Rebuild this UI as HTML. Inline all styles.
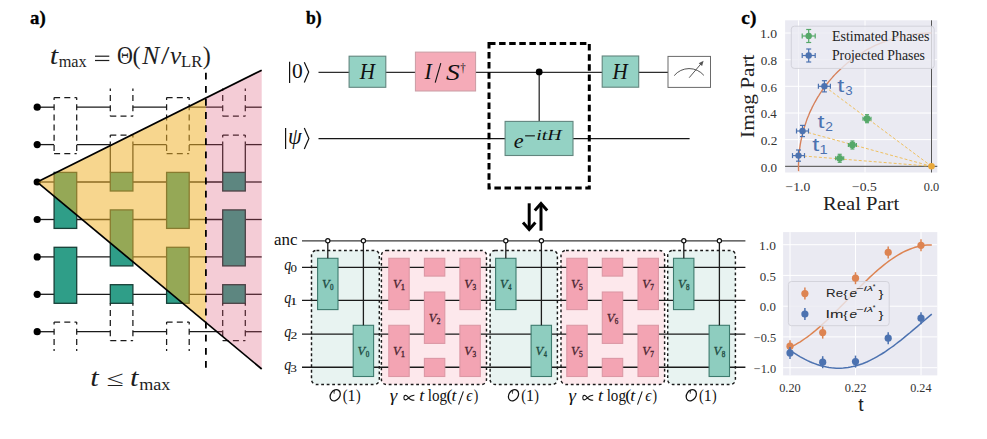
<!DOCTYPE html>
<html><head><meta charset="utf-8"><style>
html,body{margin:0;padding:0;background:#fff;width:987px;height:439px;overflow:hidden}
svg{display:block}
</style></head><body>
<svg width="987" height="439" viewBox="0 0 987 439">
<rect width="987" height="439" fill="#fff"/>
<line x1="37.2" y1="107.2" x2="54.1" y2="107.2" stroke="#1a1a1a" stroke-width="1.3"/>
<line x1="76.7" y1="107.2" x2="110.3" y2="107.2" stroke="#1a1a1a" stroke-width="1.3"/>
<line x1="132.9" y1="107.2" x2="166.6" y2="107.2" stroke="#1a1a1a" stroke-width="1.3"/>
<line x1="189.2" y1="107.2" x2="222.7" y2="107.2" stroke="#1a1a1a" stroke-width="1.3"/>
<line x1="245.3" y1="107.2" x2="261.7" y2="107.2" stroke="#1a1a1a" stroke-width="1.3"/>
<line x1="37.2" y1="144.6" x2="54.1" y2="144.6" stroke="#1a1a1a" stroke-width="1.3"/>
<line x1="76.7" y1="144.6" x2="110.3" y2="144.6" stroke="#1a1a1a" stroke-width="1.3"/>
<line x1="132.9" y1="144.6" x2="166.6" y2="144.6" stroke="#1a1a1a" stroke-width="1.3"/>
<line x1="189.2" y1="144.6" x2="222.7" y2="144.6" stroke="#1a1a1a" stroke-width="1.3"/>
<line x1="245.3" y1="144.6" x2="261.7" y2="144.6" stroke="#1a1a1a" stroke-width="1.3"/>
<line x1="37.2" y1="182.0" x2="54.1" y2="182.0" stroke="#1a1a1a" stroke-width="1.3"/>
<line x1="76.7" y1="182.0" x2="110.3" y2="182.0" stroke="#1a1a1a" stroke-width="1.3"/>
<line x1="132.9" y1="182.0" x2="166.6" y2="182.0" stroke="#1a1a1a" stroke-width="1.3"/>
<line x1="189.2" y1="182.0" x2="222.7" y2="182.0" stroke="#1a1a1a" stroke-width="1.3"/>
<line x1="245.3" y1="182.0" x2="261.7" y2="182.0" stroke="#1a1a1a" stroke-width="1.3"/>
<line x1="37.2" y1="219.5" x2="54.1" y2="219.5" stroke="#1a1a1a" stroke-width="1.3"/>
<line x1="76.7" y1="219.5" x2="110.3" y2="219.5" stroke="#1a1a1a" stroke-width="1.3"/>
<line x1="132.9" y1="219.5" x2="166.6" y2="219.5" stroke="#1a1a1a" stroke-width="1.3"/>
<line x1="189.2" y1="219.5" x2="222.7" y2="219.5" stroke="#1a1a1a" stroke-width="1.3"/>
<line x1="245.3" y1="219.5" x2="261.7" y2="219.5" stroke="#1a1a1a" stroke-width="1.3"/>
<line x1="37.2" y1="256.9" x2="54.1" y2="256.9" stroke="#1a1a1a" stroke-width="1.3"/>
<line x1="76.7" y1="256.9" x2="110.3" y2="256.9" stroke="#1a1a1a" stroke-width="1.3"/>
<line x1="132.9" y1="256.9" x2="166.6" y2="256.9" stroke="#1a1a1a" stroke-width="1.3"/>
<line x1="189.2" y1="256.9" x2="222.7" y2="256.9" stroke="#1a1a1a" stroke-width="1.3"/>
<line x1="245.3" y1="256.9" x2="261.7" y2="256.9" stroke="#1a1a1a" stroke-width="1.3"/>
<line x1="37.2" y1="294.3" x2="54.1" y2="294.3" stroke="#1a1a1a" stroke-width="1.3"/>
<line x1="76.7" y1="294.3" x2="110.3" y2="294.3" stroke="#1a1a1a" stroke-width="1.3"/>
<line x1="132.9" y1="294.3" x2="166.6" y2="294.3" stroke="#1a1a1a" stroke-width="1.3"/>
<line x1="189.2" y1="294.3" x2="222.7" y2="294.3" stroke="#1a1a1a" stroke-width="1.3"/>
<line x1="245.3" y1="294.3" x2="261.7" y2="294.3" stroke="#1a1a1a" stroke-width="1.3"/>
<line x1="37.2" y1="331.7" x2="54.1" y2="331.7" stroke="#1a1a1a" stroke-width="1.3"/>
<line x1="76.7" y1="331.7" x2="110.3" y2="331.7" stroke="#1a1a1a" stroke-width="1.3"/>
<line x1="132.9" y1="331.7" x2="166.6" y2="331.7" stroke="#1a1a1a" stroke-width="1.3"/>
<line x1="189.2" y1="331.7" x2="222.7" y2="331.7" stroke="#1a1a1a" stroke-width="1.3"/>
<line x1="245.3" y1="331.7" x2="261.7" y2="331.7" stroke="#1a1a1a" stroke-width="1.3"/>
<line x1="54.1" y1="97.6" x2="76.7" y2="97.6" stroke="#1a1a1a" stroke-width="1.25" stroke-dasharray="6 4.2" stroke-dashoffset="0"/>
<line x1="54.1" y1="153.6" x2="76.7" y2="153.6" stroke="#1a1a1a" stroke-width="1.25" stroke-dasharray="6 4.2" stroke-dashoffset="0"/>
<line x1="54.1" y1="97.6" x2="54.1" y2="153.6" stroke="#1a1a1a" stroke-width="1.25" stroke-dasharray="6 4.2" stroke-dashoffset="3.6"/>
<line x1="76.7" y1="97.6" x2="76.7" y2="153.6" stroke="#1a1a1a" stroke-width="1.25" stroke-dasharray="6 4.2" stroke-dashoffset="3.6"/>
<rect x="54.1" y="172.4" width="22.6" height="56.0" fill="#2f9e88" stroke="#173f37" stroke-width="1.3"/>
<rect x="54.1" y="247.3" width="22.6" height="56.0" fill="#2f9e88" stroke="#173f37" stroke-width="1.3"/>
<line x1="54.1" y1="322.1" x2="76.7" y2="322.1" stroke="#1a1a1a" stroke-width="1.25" stroke-dasharray="6 4.2" stroke-dashoffset="0"/>
<line x1="54.1" y1="322.1" x2="54.1" y2="351.0" stroke="#1a1a1a" stroke-width="1.25" stroke-dasharray="6 4.2" stroke-dashoffset="3.6"/>
<line x1="76.7" y1="322.1" x2="76.7" y2="351.0" stroke="#1a1a1a" stroke-width="1.25" stroke-dasharray="6 4.2" stroke-dashoffset="3.6"/>
<line x1="110.3" y1="116.2" x2="132.9" y2="116.2" stroke="#1a1a1a" stroke-width="1.25" stroke-dasharray="6 4.2" stroke-dashoffset="0"/>
<line x1="110.3" y1="88.5" x2="110.3" y2="116.2" stroke="#1a1a1a" stroke-width="1.25" stroke-dasharray="6 4.2" stroke-dashoffset="3.6"/>
<line x1="132.9" y1="88.5" x2="132.9" y2="116.2" stroke="#1a1a1a" stroke-width="1.25" stroke-dasharray="6 4.2" stroke-dashoffset="3.6"/>
<line x1="110.3" y1="135.0" x2="132.9" y2="135.0" stroke="#1a1a1a" stroke-width="1.25" stroke-dasharray="6 4.2" stroke-dashoffset="0"/>
<line x1="110.3" y1="135.0" x2="110.3" y2="144.6" stroke="#1a1a1a" stroke-width="1.25" stroke-dasharray="6 4.2" stroke-dashoffset="3.6"/>
<line x1="132.9" y1="135.0" x2="132.9" y2="144.6" stroke="#1a1a1a" stroke-width="1.25" stroke-dasharray="6 4.2" stroke-dashoffset="3.6"/>
<line x1="110.3" y1="144.6" x2="110.3" y2="172.4" stroke="#1a1a1a" stroke-width="1.25"/>
<line x1="132.9" y1="144.6" x2="132.9" y2="172.4" stroke="#1a1a1a" stroke-width="1.25"/>
<rect x="110.3" y="172.4" width="22.6" height="18.6" fill="#2f9e88" stroke="#173f37" stroke-width="1.3"/>
<rect x="110.3" y="209.9" width="22.6" height="56.0" fill="#2f9e88" stroke="#173f37" stroke-width="1.3"/>
<rect x="110.3" y="284.7" width="22.6" height="18.6" fill="#2f9e88" stroke="#173f37" stroke-width="1.3"/>
<line x1="110.3" y1="340.7" x2="132.9" y2="340.7" stroke="#1a1a1a" stroke-width="1.25" stroke-dasharray="6 4.2" stroke-dashoffset="0"/>
<line x1="110.3" y1="303.3" x2="110.3" y2="340.7" stroke="#1a1a1a" stroke-width="1.25" stroke-dasharray="6 4.2" stroke-dashoffset="3.6"/>
<line x1="132.9" y1="303.3" x2="132.9" y2="340.7" stroke="#1a1a1a" stroke-width="1.25" stroke-dasharray="6 4.2" stroke-dashoffset="3.6"/>
<line x1="166.6" y1="97.6" x2="189.2" y2="97.6" stroke="#1a1a1a" stroke-width="1.25" stroke-dasharray="6 4.2" stroke-dashoffset="0"/>
<line x1="166.6" y1="153.6" x2="189.2" y2="153.6" stroke="#1a1a1a" stroke-width="1.25" stroke-dasharray="6 4.2" stroke-dashoffset="0"/>
<line x1="166.6" y1="97.6" x2="166.6" y2="153.6" stroke="#1a1a1a" stroke-width="1.25" stroke-dasharray="6 4.2" stroke-dashoffset="3.6"/>
<line x1="189.2" y1="97.6" x2="189.2" y2="153.6" stroke="#1a1a1a" stroke-width="1.25" stroke-dasharray="6 4.2" stroke-dashoffset="3.6"/>
<rect x="166.6" y="172.4" width="22.6" height="56.0" fill="#2f9e88" stroke="#173f37" stroke-width="1.3"/>
<rect x="166.6" y="247.3" width="22.6" height="56.0" fill="#2f9e88" stroke="#173f37" stroke-width="1.3"/>
<line x1="166.6" y1="322.1" x2="189.2" y2="322.1" stroke="#1a1a1a" stroke-width="1.25" stroke-dasharray="6 4.2" stroke-dashoffset="0"/>
<line x1="166.6" y1="322.1" x2="166.6" y2="351.0" stroke="#1a1a1a" stroke-width="1.25" stroke-dasharray="6 4.2" stroke-dashoffset="3.6"/>
<line x1="189.2" y1="322.1" x2="189.2" y2="351.0" stroke="#1a1a1a" stroke-width="1.25" stroke-dasharray="6 4.2" stroke-dashoffset="3.6"/>
<line x1="222.7" y1="116.2" x2="245.3" y2="116.2" stroke="#1a1a1a" stroke-width="1.25" stroke-dasharray="6 4.2" stroke-dashoffset="0"/>
<line x1="222.7" y1="88.5" x2="222.7" y2="116.2" stroke="#1a1a1a" stroke-width="1.25" stroke-dasharray="6 4.2" stroke-dashoffset="3.6"/>
<line x1="245.3" y1="88.5" x2="245.3" y2="116.2" stroke="#1a1a1a" stroke-width="1.25" stroke-dasharray="6 4.2" stroke-dashoffset="3.6"/>
<line x1="222.7" y1="135.0" x2="245.3" y2="135.0" stroke="#1a1a1a" stroke-width="1.25" stroke-dasharray="6 4.2" stroke-dashoffset="0"/>
<line x1="222.7" y1="135.0" x2="222.7" y2="144.6" stroke="#1a1a1a" stroke-width="1.25" stroke-dasharray="6 4.2" stroke-dashoffset="3.6"/>
<line x1="245.3" y1="135.0" x2="245.3" y2="144.6" stroke="#1a1a1a" stroke-width="1.25" stroke-dasharray="6 4.2" stroke-dashoffset="3.6"/>
<line x1="222.7" y1="144.6" x2="222.7" y2="172.4" stroke="#1a1a1a" stroke-width="1.25"/>
<line x1="245.3" y1="144.6" x2="245.3" y2="172.4" stroke="#1a1a1a" stroke-width="1.25"/>
<rect x="222.7" y="172.4" width="22.6" height="18.6" fill="#2f9e88" stroke="#173f37" stroke-width="1.3"/>
<rect x="222.7" y="209.9" width="22.6" height="56.0" fill="#2f9e88" stroke="#173f37" stroke-width="1.3"/>
<rect x="222.7" y="284.7" width="22.6" height="18.6" fill="#2f9e88" stroke="#173f37" stroke-width="1.3"/>
<line x1="222.7" y1="340.7" x2="245.3" y2="340.7" stroke="#1a1a1a" stroke-width="1.25" stroke-dasharray="6 4.2" stroke-dashoffset="0"/>
<line x1="222.7" y1="303.3" x2="222.7" y2="340.7" stroke="#1a1a1a" stroke-width="1.25" stroke-dasharray="6 4.2" stroke-dashoffset="3.6"/>
<line x1="245.3" y1="303.3" x2="245.3" y2="340.7" stroke="#1a1a1a" stroke-width="1.25" stroke-dasharray="6 4.2" stroke-dashoffset="3.6"/>
<circle cx="37.2" cy="107.2" r="3.6" fill="#000"/>
<circle cx="37.2" cy="144.6" r="3.6" fill="#000"/>
<circle cx="37.2" cy="182.0" r="3.6" fill="#000"/>
<circle cx="37.2" cy="219.5" r="3.6" fill="#000"/>
<circle cx="37.2" cy="256.9" r="3.6" fill="#000"/>
<circle cx="37.2" cy="294.3" r="3.6" fill="#000"/>
<circle cx="37.2" cy="331.7" r="3.6" fill="#000"/>
<polygon points="37.2,182.1 205.9,98.0 205.9,322.5" fill="rgb(240,177,42)" fill-opacity="0.53"/>
<polygon points="205.9,98.0 261.7,70.2 261.7,369.0 205.9,322.5" fill="rgb(216,73,108)" fill-opacity="0.28"/>
<line x1="37.2" y1="182.1" x2="261.7" y2="70.2" stroke="#000" stroke-width="1.7"/>
<line x1="37.2" y1="182.1" x2="261.7" y2="369.0" stroke="#000" stroke-width="1.7"/>
<line x1="205.9" y1="72.8" x2="205.9" y2="369.6" stroke="#000" stroke-width="1.8" stroke-dasharray="6.8 6.3"/>
<text transform="translate(30.00,24.20) scale(0.962,1)" font-family='"Liberation Serif", serif' font-size="19.50" font-weight="bold" fill="#000" stroke="#000" stroke-width="0.35">a)</text>
<text transform="translate(49.87,64.30) scale(1.243,1)" font-family='"Liberation Serif", serif' font-size="24.40" font-style="italic" fill="#1e1e1e">t</text>
<text transform="translate(58.66,67.20) scale(0.931,1)" font-family='"Liberation Serif", serif' font-size="17.50" fill="#1e1e1e">max</text>
<rect x="95" y="55.6" width="14.3" height="1.2" fill="#1e1e1e"/><rect x="95" y="59.9" width="14.3" height="1.2" fill="#1e1e1e"/>
<text transform="translate(117.10,64.40) scale(0.910,1)" font-family='"Liberation Serif", serif' font-size="24.20" fill="#1e1e1e">Θ</text>
<text transform="translate(132.44,64.40)" font-family='"Liberation Serif", serif' font-size="24.20" fill="#1e1e1e">(</text>
<text transform="translate(142.19,64.40) scale(1.055,1)" font-family='"Liberation Serif", serif' font-size="24.20" font-style="italic" fill="#1e1e1e">N</text>
<text transform="translate(161.00,64.40) scale(1.264,1)" font-family='"Liberation Serif", serif' font-size="24.20" fill="#1e1e1e">/</text>
<text transform="translate(170.05,64.40) scale(1.047,1)" font-family='"Liberation Serif", serif' font-size="24.20" font-style="italic" fill="#1e1e1e">v</text>
<text transform="translate(181.02,67.20) scale(0.953,1)" font-family='"Liberation Serif", serif' font-size="17.50" fill="#1e1e1e">LR</text>
<text transform="translate(202.72,64.40)" font-family='"Liberation Serif", serif' font-size="24.20" fill="#1e1e1e">)</text>
<text transform="translate(90.27,386.30) scale(1.243,1)" font-family='"Liberation Serif", serif' font-size="24.40" font-style="italic" fill="#1e1e1e">t</text>
<text transform="translate(106.50,386.00) scale(1.426,1)" font-family='"Liberation Serif", serif' font-size="22.00" fill="#1e1e1e">≤</text>
<text transform="translate(129.97,386.30) scale(1.243,1)" font-family='"Liberation Serif", serif' font-size="24.40" font-style="italic" fill="#1e1e1e">t</text>
<text transform="translate(139.22,389.70) scale(1.036,1)" font-family='"Liberation Serif", serif' font-size="17.50" fill="#1e1e1e">max</text>
<text transform="translate(305.98,24.20) scale(0.905,1)" font-family='"Liberation Serif", serif' font-size="19.50" font-weight="bold" fill="#000" stroke="#000" stroke-width="0.35">b)</text>
<line x1="318.5" y1="72.35" x2="668" y2="72.35" stroke="#2e2e2e" stroke-width="1.3"/>
<line x1="318.5" y1="138.6" x2="689.6" y2="138.6" stroke="#161616" stroke-width="1.4"/>
<line x1="289.6" y1="61.8" x2="289.6" y2="82.9" stroke="#111" stroke-width="1.2"/>
<text transform="translate(291.98,77.70) scale(0.994,1)" font-family='"Liberation Serif", serif' font-size="21.60" fill="#111">0</text>
<path d="M304.3,62.2 L308.7,72.1 L304.3,82.5" fill="none" stroke="#111" stroke-width="1.2"/>
<line x1="285.6" y1="128" x2="285.6" y2="149.1" stroke="#111" stroke-width="1.2"/>
<text transform="translate(287.89,143.50) scale(0.980,1)" font-family='"Liberation Serif", serif' font-size="22.50" font-style="italic" fill="#111">ψ</text>
<path d="M304.3,128 L308.9,138.5 L304.3,149.1" fill="none" stroke="#111" stroke-width="1.2"/>
<rect x="349.1" y="56.2" width="36.7" height="31.1" fill="#94d2c4" stroke="#62857e" stroke-width="1.1"/>
<text transform="translate(359.63,79.40) scale(0.945,1)" font-family='"Liberation Serif", serif' font-size="22.30" font-style="italic" fill="#111">H</text>
<rect x="415.4" y="52.1" width="60.2" height="38.9" fill="#f5abb8" stroke="#c99ca4" stroke-width="1"/>
<text transform="translate(424.39,79.40) scale(0.978,1)" font-family='"Liberation Serif", serif' font-size="22.30" font-style="italic" fill="#111">I</text>
<line x1="435.2" y1="82.6" x2="440.8" y2="63.2" stroke="#111" stroke-width="1.1"/>
<text transform="translate(445.88,79.60) scale(1.235,1)" font-family='"Liberation Serif", serif' font-size="22.30" font-style="italic" fill="#111">S</text>
<text transform="translate(460.26,71.90) scale(0.842,1)" font-family='"Liberation Serif", serif' font-size="13.00" fill="#111">†</text>
<rect x="489" y="43.4" width="100.3" height="144.6" fill="none" stroke="#000" stroke-width="3" stroke-dasharray="6.5 3.6"/>
<line x1="539.2" y1="72" x2="539.2" y2="121.4" stroke="#2e2e2e" stroke-width="1.3"/>
<circle cx="539.2" cy="71.9" r="3.4" fill="#000"/>
<rect x="505.1" y="121.4" width="67.9" height="34.1" fill="#94d2c4" stroke="#62857e" stroke-width="1.1"/>
<text transform="translate(513.71,147.80) scale(1.012,1)" font-family='"Liberation Serif", serif' font-size="22.00" font-style="italic" fill="#111">e</text>
<rect x="525.1" y="135.3" width="9.8" height="1.1" fill="#111"/>
<text transform="translate(536.29,139.60) scale(1.372,1)" font-family='"Liberation Serif", serif' font-size="14.50" font-style="italic" fill="#111">itH</text>
<rect x="602.2" y="56" width="36.5" height="31.2" fill="#94d2c4" stroke="#62857e" stroke-width="1.1"/>
<text transform="translate(612.43,79.40) scale(0.945,1)" font-family='"Liberation Serif", serif' font-size="22.30" font-style="italic" fill="#111">H</text>
<rect x="668" y="56.4" width="42.5" height="31" fill="#fff" stroke="#6a6a6a" stroke-width="1"/>
<path d="M674.2,75.6 A19.4,19.4 0 0 1 703.9,75.4" fill="none" stroke="#555" stroke-width="1"/>
<line x1="689.2" y1="77.7" x2="701.2" y2="63.6" stroke="#555" stroke-width="1"/>
<path d="M703.6,60.8 L702.1,66.0 L698.7,63.2 Z" fill="#555"/>
<line x1="529.2" y1="203.3" x2="529.2" y2="229" stroke="#000" stroke-width="3"/>
<path d="M523,222.5 L529.2,229.5 L535.4,222.5" fill="none" stroke="#000" stroke-width="3"/>
<line x1="541" y1="204" x2="541" y2="230.7" stroke="#000" stroke-width="3"/>
<path d="M534.8,210.5 L541,203.5 L547.2,210.5" fill="none" stroke="#000" stroke-width="3"/>
<rect x="311.5" y="250.4" width="67.8" height="134.1" rx="5" fill="#e8f3f1"/>
<rect x="381.4" y="250.4" width="105.1" height="134.1" rx="5" fill="#fde8ec"/>
<rect x="490.1" y="250.4" width="67.3" height="134.1" rx="5" fill="#e8f3f1"/>
<rect x="561.0" y="250.4" width="103.6" height="134.1" rx="5" fill="#fde8ec"/>
<rect x="667.7" y="250.4" width="67.7" height="134.1" rx="5" fill="#e8f3f1"/>
<line x1="302" y1="240.8" x2="745.4" y2="240.8" stroke="#3a3a3a" stroke-width="1.35"/>
<line x1="302" y1="267.3" x2="745.4" y2="267.3" stroke="#1a1a1a" stroke-width="1.35"/>
<line x1="302" y1="300.3" x2="745.4" y2="300.3" stroke="#1a1a1a" stroke-width="1.35"/>
<line x1="302" y1="334.1" x2="745.4" y2="334.1" stroke="#1a1a1a" stroke-width="1.35"/>
<line x1="302" y1="367.2" x2="745.4" y2="367.2" stroke="#1a1a1a" stroke-width="1.35"/>
<rect x="311.5" y="250.4" width="67.8" height="134.1" rx="5" fill="none" stroke="#1a1a1a" stroke-width="1.45" stroke-dasharray="2.8 2.7"/>
<rect x="381.4" y="250.4" width="105.1" height="134.1" rx="5" fill="none" stroke="#1a1a1a" stroke-width="1.45" stroke-dasharray="2.8 2.7"/>
<rect x="490.1" y="250.4" width="67.3" height="134.1" rx="5" fill="none" stroke="#1a1a1a" stroke-width="1.45" stroke-dasharray="2.8 2.7"/>
<rect x="561.0" y="250.4" width="103.6" height="134.1" rx="5" fill="none" stroke="#1a1a1a" stroke-width="1.45" stroke-dasharray="2.8 2.7"/>
<rect x="667.7" y="250.4" width="67.7" height="134.1" rx="5" fill="none" stroke="#1a1a1a" stroke-width="1.45" stroke-dasharray="2.8 2.7"/>
<rect x="317.6" y="258.3" width="20.4" height="51.3" fill="#8ecdbf" stroke="#3d7a6e" stroke-width="1.1"/>
<text transform="translate(321.90,288.45) scale(0.963,1)" font-family='"Liberation Serif", serif' font-size="13.00" font-style="italic" fill="#1d4a42" stroke="#1d4a42" stroke-width="0.3">V</text>
<text transform="translate(330.08,290.25) scale(0.885,1)" font-family='"Liberation Serif", serif' font-size="8.00" fill="#1d4a42" stroke="#1d4a42" stroke-width="0.35">0</text>
<line x1="327.8" y1="240.8" x2="327.8" y2="258.3" stroke="#1e1e1e" stroke-width="1.3"/>
<circle cx="327.8" cy="240.8" r="2.1" fill="#fff" stroke="#111" stroke-width="1.2"/>
<rect x="353.2" y="325.3" width="20.4" height="51.2" fill="#8ecdbf" stroke="#3d7a6e" stroke-width="1.1"/>
<text transform="translate(357.50,355.40) scale(0.963,1)" font-family='"Liberation Serif", serif' font-size="13.00" font-style="italic" fill="#1d4a42" stroke="#1d4a42" stroke-width="0.3">V</text>
<text transform="translate(365.68,357.20) scale(0.885,1)" font-family='"Liberation Serif", serif' font-size="8.00" fill="#1d4a42" stroke="#1d4a42" stroke-width="0.35">0</text>
<line x1="363.4" y1="240.8" x2="363.4" y2="325.3" stroke="#1e1e1e" stroke-width="1.3"/>
<circle cx="363.4" cy="240.8" r="2.1" fill="#fff" stroke="#111" stroke-width="1.2"/>
<rect x="495.6" y="258.3" width="20.4" height="51.3" fill="#8ecdbf" stroke="#3d7a6e" stroke-width="1.1"/>
<text transform="translate(499.90,288.45) scale(0.963,1)" font-family='"Liberation Serif", serif' font-size="13.00" font-style="italic" fill="#1d4a42" stroke="#1d4a42" stroke-width="0.3">V</text>
<text transform="translate(508.22,290.25) scale(0.807,1)" font-family='"Liberation Serif", serif' font-size="8.00" fill="#1d4a42" stroke="#1d4a42" stroke-width="0.35">4</text>
<line x1="505.8" y1="240.8" x2="505.8" y2="258.3" stroke="#1e1e1e" stroke-width="1.3"/>
<circle cx="505.8" cy="240.8" r="2.1" fill="#fff" stroke="#111" stroke-width="1.2"/>
<rect x="531.1" y="325.3" width="20.4" height="51.2" fill="#8ecdbf" stroke="#3d7a6e" stroke-width="1.1"/>
<text transform="translate(535.50,355.40) scale(0.963,1)" font-family='"Liberation Serif", serif' font-size="13.00" font-style="italic" fill="#1d4a42" stroke="#1d4a42" stroke-width="0.3">V</text>
<text transform="translate(543.82,357.20) scale(0.807,1)" font-family='"Liberation Serif", serif' font-size="8.00" fill="#1d4a42" stroke="#1d4a42" stroke-width="0.35">4</text>
<line x1="541.4" y1="240.8" x2="541.4" y2="325.3" stroke="#1e1e1e" stroke-width="1.3"/>
<circle cx="541.4" cy="240.8" r="2.1" fill="#fff" stroke="#111" stroke-width="1.2"/>
<rect x="673.5" y="258.3" width="20.4" height="51.3" fill="#8ecdbf" stroke="#3d7a6e" stroke-width="1.1"/>
<text transform="translate(677.90,288.45) scale(0.963,1)" font-family='"Liberation Serif", serif' font-size="13.00" font-style="italic" fill="#1d4a42" stroke="#1d4a42" stroke-width="0.3">V</text>
<text transform="translate(686.08,290.25) scale(0.885,1)" font-family='"Liberation Serif", serif' font-size="8.00" fill="#1d4a42" stroke="#1d4a42" stroke-width="0.35">8</text>
<line x1="683.8" y1="240.8" x2="683.8" y2="258.3" stroke="#1e1e1e" stroke-width="1.3"/>
<circle cx="683.8" cy="240.8" r="2.1" fill="#fff" stroke="#111" stroke-width="1.2"/>
<rect x="709.1" y="325.3" width="20.4" height="51.2" fill="#8ecdbf" stroke="#3d7a6e" stroke-width="1.1"/>
<text transform="translate(713.50,355.40) scale(0.963,1)" font-family='"Liberation Serif", serif' font-size="13.00" font-style="italic" fill="#1d4a42" stroke="#1d4a42" stroke-width="0.3">V</text>
<text transform="translate(721.68,357.20) scale(0.885,1)" font-family='"Liberation Serif", serif' font-size="8.00" fill="#1d4a42" stroke="#1d4a42" stroke-width="0.35">8</text>
<line x1="719.4" y1="240.8" x2="719.4" y2="325.3" stroke="#1e1e1e" stroke-width="1.3"/>
<circle cx="719.4" cy="240.8" r="2.1" fill="#fff" stroke="#111" stroke-width="1.2"/>
<rect x="388.8" y="258.3" width="20.4" height="51.3" fill="#f3a4b3" stroke="#dc98a5" stroke-width="1.1"/>
<text transform="translate(393.10,288.45) scale(0.963,1)" font-family='"Liberation Serif", serif' font-size="13.00" font-style="italic" fill="#4a2530" stroke="#4a2530" stroke-width="0.3">V</text>
<text transform="translate(400.80,290.25) scale(1.065,1)" font-family='"Liberation Serif", serif' font-size="8.00" fill="#4a2530" stroke="#4a2530" stroke-width="0.35">1</text>
<rect x="388.8" y="325.3" width="20.4" height="51.2" fill="#f3a4b3" stroke="#dc98a5" stroke-width="1.1"/>
<text transform="translate(393.10,355.40) scale(0.963,1)" font-family='"Liberation Serif", serif' font-size="13.00" font-style="italic" fill="#4a2530" stroke="#4a2530" stroke-width="0.3">V</text>
<text transform="translate(400.80,357.20) scale(1.065,1)" font-family='"Liberation Serif", serif' font-size="8.00" fill="#4a2530" stroke="#4a2530" stroke-width="0.35">1</text>
<rect x="424.4" y="258.3" width="20.4" height="17.8" fill="#f3a4b3" stroke="#dc98a5" stroke-width="1.1"/>
<rect x="424.4" y="292.0" width="20.4" height="51.4" fill="#f3a4b3" stroke="#dc98a5" stroke-width="1.1"/>
<text transform="translate(428.70,322.20) scale(0.963,1)" font-family='"Liberation Serif", serif' font-size="13.00" font-style="italic" fill="#4a2530" stroke="#4a2530" stroke-width="0.3">V</text>
<text transform="translate(436.82,324.00) scale(0.935,1)" font-family='"Liberation Serif", serif' font-size="8.00" fill="#4a2530" stroke="#4a2530" stroke-width="0.35">2</text>
<rect x="424.4" y="358.4" width="20.4" height="18.1" fill="#f3a4b3" stroke="#dc98a5" stroke-width="1.1"/>
<rect x="459.9" y="258.3" width="20.4" height="51.3" fill="#f3a4b3" stroke="#dc98a5" stroke-width="1.1"/>
<text transform="translate(464.30,288.45) scale(0.963,1)" font-family='"Liberation Serif", serif' font-size="13.00" font-style="italic" fill="#4a2530" stroke="#4a2530" stroke-width="0.3">V</text>
<text transform="translate(472.40,290.25) scale(0.908,1)" font-family='"Liberation Serif", serif' font-size="8.00" fill="#4a2530" stroke="#4a2530" stroke-width="0.35">3</text>
<rect x="459.9" y="325.3" width="20.4" height="51.2" fill="#f3a4b3" stroke="#dc98a5" stroke-width="1.1"/>
<text transform="translate(464.30,355.40) scale(0.963,1)" font-family='"Liberation Serif", serif' font-size="13.00" font-style="italic" fill="#4a2530" stroke="#4a2530" stroke-width="0.3">V</text>
<text transform="translate(472.40,357.20) scale(0.908,1)" font-family='"Liberation Serif", serif' font-size="8.00" fill="#4a2530" stroke="#4a2530" stroke-width="0.35">3</text>
<rect x="566.8" y="258.3" width="20.4" height="51.3" fill="#f3a4b3" stroke="#dc98a5" stroke-width="1.1"/>
<text transform="translate(571.10,288.45) scale(0.963,1)" font-family='"Liberation Serif", serif' font-size="13.00" font-style="italic" fill="#4a2530" stroke="#4a2530" stroke-width="0.3">V</text>
<text transform="translate(579.12,290.25) scale(0.931,1)" font-family='"Liberation Serif", serif' font-size="8.00" fill="#4a2530" stroke="#4a2530" stroke-width="0.35">5</text>
<rect x="566.8" y="325.3" width="20.4" height="51.2" fill="#f3a4b3" stroke="#dc98a5" stroke-width="1.1"/>
<text transform="translate(571.10,355.40) scale(0.963,1)" font-family='"Liberation Serif", serif' font-size="13.00" font-style="italic" fill="#4a2530" stroke="#4a2530" stroke-width="0.3">V</text>
<text transform="translate(579.12,357.20) scale(0.931,1)" font-family='"Liberation Serif", serif' font-size="8.00" fill="#4a2530" stroke="#4a2530" stroke-width="0.35">5</text>
<rect x="602.3" y="258.3" width="20.4" height="17.8" fill="#f3a4b3" stroke="#dc98a5" stroke-width="1.1"/>
<rect x="602.3" y="292.0" width="20.4" height="51.4" fill="#f3a4b3" stroke="#dc98a5" stroke-width="1.1"/>
<text transform="translate(606.70,322.20) scale(0.963,1)" font-family='"Liberation Serif", serif' font-size="13.00" font-style="italic" fill="#4a2530" stroke="#4a2530" stroke-width="0.3">V</text>
<text transform="translate(614.85,324.00) scale(0.878,1)" font-family='"Liberation Serif", serif' font-size="8.00" fill="#4a2530" stroke="#4a2530" stroke-width="0.35">6</text>
<rect x="602.3" y="358.4" width="20.4" height="18.1" fill="#f3a4b3" stroke="#dc98a5" stroke-width="1.1"/>
<rect x="638.0" y="258.3" width="20.4" height="51.3" fill="#f3a4b3" stroke="#dc98a5" stroke-width="1.1"/>
<text transform="translate(642.30,288.45) scale(0.963,1)" font-family='"Liberation Serif", serif' font-size="13.00" font-style="italic" fill="#4a2530" stroke="#4a2530" stroke-width="0.3">V</text>
<text transform="translate(650.26,290.25) scale(0.925,1)" font-family='"Liberation Serif", serif' font-size="8.00" fill="#4a2530" stroke="#4a2530" stroke-width="0.35">7</text>
<rect x="638.0" y="325.3" width="20.4" height="51.2" fill="#f3a4b3" stroke="#dc98a5" stroke-width="1.1"/>
<text transform="translate(642.30,355.40) scale(0.963,1)" font-family='"Liberation Serif", serif' font-size="13.00" font-style="italic" fill="#4a2530" stroke="#4a2530" stroke-width="0.3">V</text>
<text transform="translate(650.26,357.20) scale(0.925,1)" font-family='"Liberation Serif", serif' font-size="8.00" fill="#4a2530" stroke="#4a2530" stroke-width="0.35">7</text>
<text transform="translate(273.90,244.60) scale(1.046,1)" font-family='"Liberation Serif", serif' font-size="16.20" fill="#111">anc</text>
<text transform="translate(284.34,269.70) scale(0.823,1)" font-family='"Liberation Serif", serif' font-size="17.00" font-style="italic" fill="#111">q</text>
<text transform="translate(290.51,271.90) scale(1.180,1)" font-family='"Liberation Serif", serif' font-size="11.00" fill="#111">0</text>
<text transform="translate(284.34,302.70) scale(0.823,1)" font-family='"Liberation Serif", serif' font-size="17.00" font-style="italic" fill="#111">q</text>
<text transform="translate(289.63,304.90) scale(1.420,1)" font-family='"Liberation Serif", serif' font-size="11.00" fill="#111">1</text>
<text transform="translate(284.34,336.50) scale(0.823,1)" font-family='"Liberation Serif", serif' font-size="17.00" font-style="italic" fill="#111">q</text>
<text transform="translate(290.40,338.70) scale(1.247,1)" font-family='"Liberation Serif", serif' font-size="11.00" fill="#111">2</text>
<text transform="translate(284.34,369.60) scale(0.823,1)" font-family='"Liberation Serif", serif' font-size="17.00" font-style="italic" fill="#111">q</text>
<text transform="translate(290.36,371.80) scale(1.210,1)" font-family='"Liberation Serif", serif' font-size="11.00" fill="#111">3</text>
<ellipse cx="335.2" cy="395.3" rx="4.6" ry="6.0" transform="rotate(35 335.2 395.3)" fill="none" stroke="#111" stroke-width="1.25"/>
<path d="M334.6,390.6 Q333.6,392.2 334.2,393.6" fill="none" stroke="#111" stroke-width="0.9"/>
<text transform="translate(342.87,400.80) scale(0.873,1)" font-family='"Liberation Serif", serif' font-size="16.50" fill="#111">(</text>
<text transform="translate(347.60,400.80) scale(0.964,1)" font-family='"Liberation Serif", serif' font-size="16.50" fill="#111">1</text>
<text transform="translate(355.95,400.80) scale(0.849,1)" font-family='"Liberation Serif", serif' font-size="16.50" fill="#111">)</text>
<text transform="translate(389.75,400.80) scale(1.194,1)" font-family='"Liberation Serif", serif' font-size="16.00" font-style="italic" fill="#111">γ</text>
<path d="M414.4,395.2 C410.5,395 409.0,397.5 407.8,398.6 C406.0,400.4 403.9,400.6 403.9,397.7 C403.9,394.7 406.3,394.9 407.8,396.8 C409.0,398.4 410.8,400.4 414.4,400.3" fill="none" stroke="#111" stroke-width="1.1"/>
<text transform="translate(419.20,400.80) scale(1.098,1)" font-family='"Liberation Serif", serif' font-size="16.50" font-style="italic" fill="#111">t</text>
<text transform="translate(427.80,400.80) scale(0.915,1)" font-family='"Liberation Serif", serif' font-size="16.50" fill="#111">log</text>
<text transform="translate(446.51,400.80) scale(1.085,1)" font-family='"Liberation Serif", serif' font-size="16.50" fill="#111">(</text>
<text transform="translate(451.52,400.80) scale(1.074,1)" font-family='"Liberation Serif", serif' font-size="16.50" font-style="italic" fill="#111">t</text>
<line x1="458.6" y1="404.6" x2="463.4" y2="391.4" stroke="#111" stroke-width="1.05"/>
<text transform="translate(466.34,400.80) scale(0.942,1)" font-family='"Liberation Serif", serif' font-size="16.50" font-style="italic" fill="#111">ϵ</text>
<text transform="translate(473.76,400.80) scale(0.826,1)" font-family='"Liberation Serif", serif' font-size="16.50" fill="#111">)</text>
<ellipse cx="513.5" cy="395.3" rx="4.6" ry="6.0" transform="rotate(35 513.5 395.3)" fill="none" stroke="#111" stroke-width="1.25"/>
<path d="M513.0,390.6 Q512.0,392.2 512.5,393.6" fill="none" stroke="#111" stroke-width="0.9"/>
<text transform="translate(521.22,400.80) scale(0.873,1)" font-family='"Liberation Serif", serif' font-size="16.50" fill="#111">(</text>
<text transform="translate(525.95,400.80) scale(0.964,1)" font-family='"Liberation Serif", serif' font-size="16.50" fill="#111">1</text>
<text transform="translate(534.30,400.80) scale(0.849,1)" font-family='"Liberation Serif", serif' font-size="16.50" fill="#111">)</text>
<text transform="translate(568.60,400.80) scale(1.194,1)" font-family='"Liberation Serif", serif' font-size="16.00" font-style="italic" fill="#111">γ</text>
<path d="M593.2,395.2 C589.3,395 587.8,397.5 586.6,398.6 C584.8,400.4 582.8,400.6 582.8,397.7 C582.8,394.7 585.1,394.9 586.6,396.8 C587.8,398.4 589.6,400.4 593.2,400.3" fill="none" stroke="#111" stroke-width="1.1"/>
<text transform="translate(598.05,400.80) scale(1.098,1)" font-family='"Liberation Serif", serif' font-size="16.50" font-style="italic" fill="#111">t</text>
<text transform="translate(606.65,400.80) scale(0.915,1)" font-family='"Liberation Serif", serif' font-size="16.50" fill="#111">log</text>
<text transform="translate(625.36,400.80) scale(1.085,1)" font-family='"Liberation Serif", serif' font-size="16.50" fill="#111">(</text>
<text transform="translate(630.37,400.80) scale(1.074,1)" font-family='"Liberation Serif", serif' font-size="16.50" font-style="italic" fill="#111">t</text>
<line x1="637.5" y1="404.6" x2="642.2" y2="391.4" stroke="#111" stroke-width="1.05"/>
<text transform="translate(645.19,400.80) scale(0.942,1)" font-family='"Liberation Serif", serif' font-size="16.50" font-style="italic" fill="#111">ϵ</text>
<text transform="translate(652.61,400.80) scale(0.826,1)" font-family='"Liberation Serif", serif' font-size="16.50" fill="#111">)</text>
<ellipse cx="691.3" cy="395.3" rx="4.6" ry="6.0" transform="rotate(35 691.3 395.3)" fill="none" stroke="#111" stroke-width="1.25"/>
<path d="M690.8,390.6 Q689.8,392.2 690.3,393.6" fill="none" stroke="#111" stroke-width="0.9"/>
<text transform="translate(699.02,400.80) scale(0.873,1)" font-family='"Liberation Serif", serif' font-size="16.50" fill="#111">(</text>
<text transform="translate(703.75,400.80) scale(0.964,1)" font-family='"Liberation Serif", serif' font-size="16.50" fill="#111">1</text>
<text transform="translate(712.10,400.80) scale(0.849,1)" font-family='"Liberation Serif", serif' font-size="16.50" fill="#111">)</text>
<text transform="translate(741.34,24.20) scale(0.991,1)" font-family='"Liberation Serif", serif' font-size="19.50" font-weight="bold" fill="#000" stroke="#000" stroke-width="0.35">c)</text>
<rect x="785.1" y="20.3" width="152.2" height="152.2" fill="#eaeaf2"/>
<line x1="798.5" y1="20.3" x2="798.5" y2="172.5" stroke="#fff" stroke-width="1"/>
<line x1="865.0" y1="20.3" x2="865.0" y2="172.5" stroke="#fff" stroke-width="1"/>
<line x1="931.5" y1="20.3" x2="931.5" y2="172.5" stroke="#fff" stroke-width="1"/>
<line x1="785.1" y1="166.3" x2="937.3" y2="166.3" stroke="#fff" stroke-width="1"/>
<line x1="785.1" y1="139.6" x2="937.3" y2="139.6" stroke="#fff" stroke-width="1"/>
<line x1="785.1" y1="113.0" x2="937.3" y2="113.0" stroke="#fff" stroke-width="1"/>
<line x1="785.1" y1="86.3" x2="937.3" y2="86.3" stroke="#fff" stroke-width="1"/>
<line x1="785.1" y1="59.7" x2="937.3" y2="59.7" stroke="#fff" stroke-width="1"/>
<line x1="785.1" y1="33.0" x2="937.3" y2="33.0" stroke="#fff" stroke-width="1"/>
<line x1="785.1" y1="166.3" x2="937.3" y2="166.3" stroke="#666" stroke-width="1.2"/>
<line x1="931.5" y1="20.3" x2="931.5" y2="172.5" stroke="#555" stroke-width="1.0"/>
<polyline points="931.5,33.0 929.3,33.0 927.1,33.1 924.9,33.2 922.7,33.3 920.5,33.5 918.3,33.7 916.1,33.9 913.9,34.2 911.7,34.5 909.5,34.8 907.4,35.2 905.2,35.6 903.1,36.1 900.9,36.6 898.8,37.1 896.6,37.7 894.5,38.3 892.4,38.9 890.3,39.6 888.2,40.3 886.1,41.0 884.1,41.8 882.0,42.6 880.0,43.4 877.9,44.3 875.9,45.2 873.9,46.1 871.9,47.1 870.0,48.1 868.0,49.2 866.1,50.2 864.2,51.3 862.3,52.5 860.4,53.6 858.6,54.8 856.7,56.1 854.9,57.3 853.1,58.6 851.4,59.9 849.6,61.3 847.9,62.6 846.2,64.0 844.5,65.5 842.9,66.9 841.2,68.4 839.6,69.9 838.0,71.5 836.5,73.0 834.9,74.6 833.4,76.2 832.0,77.9 830.5,79.6 829.1,81.2 827.7,83.0 826.3,84.7 825.0,86.5 823.7,88.2 822.4,90.0 821.2,91.9 820.0,93.7 818.8,95.6 817.6,97.4 816.5,99.3 815.4,101.3 814.3,103.2 813.3,105.2 812.3,107.1 811.4,109.1 810.4,111.1 809.5,113.1 808.7,115.2 807.8,117.2 807.0,119.3 806.3,121.4 805.6,123.5 804.9,125.6 804.2,127.7 803.6,129.8 803.0,131.9 802.5,134.1 801.9,136.2 801.5,138.4 801.0,140.5 800.6,142.7 800.2,144.9 799.9,147.1 799.6,149.2 799.3,151.4 799.1,153.6 798.9,155.8 798.8,158.0 798.6,160.3 798.6,162.5 798.5,164.7 798.5,166.9 798.5,169.1 798.6,171.3" fill="none" stroke="#d6805a" stroke-width="1.35"/>
<line x1="931.5" y1="166.3" x2="798.5" y2="155.6" stroke="#efc060" stroke-width="1.0" stroke-dasharray="3 2"/>
<line x1="931.5" y1="166.3" x2="802.5" y2="131.0" stroke="#efc060" stroke-width="1.0" stroke-dasharray="3 2"/>
<line x1="931.5" y1="166.3" x2="824.4" y2="86.3" stroke="#efc060" stroke-width="1.0" stroke-dasharray="3 2"/>
<circle cx="931.5" cy="166.3" r="3.3" fill="#e9a83a"/>
<g stroke="#55a868" stroke-width="1.2"><line x1="835.7" y1="158.3" x2="843.7" y2="158.3"/><line x1="839.7" y1="154.3" x2="839.7" y2="162.3"/><line x1="835.7" y1="156.3" x2="835.7" y2="160.3"/><line x1="843.7" y1="156.3" x2="843.7" y2="160.3"/><line x1="837.7" y1="154.3" x2="841.7" y2="154.3"/><line x1="837.7" y1="162.3" x2="841.7" y2="162.3"/></g>
<circle cx="839.7" cy="158.3" r="3.4" fill="#55a868"/>
<g stroke="#55a868" stroke-width="1.2"><line x1="848.4" y1="145.0" x2="856.4" y2="145.0"/><line x1="852.4" y1="141.0" x2="852.4" y2="149.0"/><line x1="848.4" y1="143.0" x2="848.4" y2="147.0"/><line x1="856.4" y1="143.0" x2="856.4" y2="147.0"/><line x1="850.4" y1="141.0" x2="854.4" y2="141.0"/><line x1="850.4" y1="149.0" x2="854.4" y2="149.0"/></g>
<circle cx="852.4" cy="145.0" r="3.4" fill="#55a868"/>
<g stroke="#55a868" stroke-width="1.2"><line x1="863.0" y1="118.7" x2="871.0" y2="118.7"/><line x1="867.0" y1="114.7" x2="867.0" y2="122.7"/><line x1="863.0" y1="116.7" x2="863.0" y2="120.7"/><line x1="871.0" y1="116.7" x2="871.0" y2="120.7"/><line x1="865.0" y1="114.7" x2="869.0" y2="114.7"/><line x1="865.0" y1="122.7" x2="869.0" y2="122.7"/></g>
<circle cx="867.0" cy="118.7" r="3.4" fill="#55a868"/>
<g stroke="#4c72b0" stroke-width="1.2"><line x1="792.5" y1="155.6" x2="804.5" y2="155.6"/><line x1="798.5" y1="150.0" x2="798.5" y2="161.2"/><line x1="792.5" y1="153.1" x2="792.5" y2="158.1"/><line x1="804.5" y1="153.1" x2="804.5" y2="158.1"/><line x1="796.0" y1="150.0" x2="801.0" y2="150.0"/><line x1="796.0" y1="161.2" x2="801.0" y2="161.2"/></g>
<circle cx="798.5" cy="155.6" r="3.2" fill="#4c72b0"/>
<g stroke="#4c72b0" stroke-width="1.2"><line x1="796.5" y1="131.0" x2="808.5" y2="131.0"/><line x1="802.5" y1="125.4" x2="802.5" y2="136.6"/><line x1="796.5" y1="128.5" x2="796.5" y2="133.5"/><line x1="808.5" y1="128.5" x2="808.5" y2="133.5"/><line x1="800.0" y1="125.4" x2="805.0" y2="125.4"/><line x1="800.0" y1="136.6" x2="805.0" y2="136.6"/></g>
<circle cx="802.5" cy="131.0" r="3.2" fill="#4c72b0"/>
<g stroke="#4c72b0" stroke-width="1.2"><line x1="818.4" y1="86.3" x2="830.4" y2="86.3"/><line x1="824.4" y1="80.7" x2="824.4" y2="91.9"/><line x1="818.4" y1="83.8" x2="818.4" y2="88.8"/><line x1="830.4" y1="83.8" x2="830.4" y2="88.8"/><line x1="821.9" y1="80.7" x2="826.9" y2="80.7"/><line x1="821.9" y1="91.9" x2="826.9" y2="91.9"/></g>
<circle cx="824.4" cy="86.3" r="3.2" fill="#4c72b0"/>
<text transform="translate(812.22,151.30) scale(1.319,1)" font-family='"Liberation Sans", sans-serif' font-size="19.00" fill="#4c72b0">t</text>
<text transform="translate(819.59,154.10) scale(1.169,1)" font-family='"Liberation Sans", sans-serif' font-size="12.50" fill="#4c72b0">1</text>
<text transform="translate(817.42,127.80) scale(1.319,1)" font-family='"Liberation Sans", sans-serif' font-size="19.00" fill="#4c72b0">t</text>
<text transform="translate(825.20,130.60) scale(1.106,1)" font-family='"Liberation Sans", sans-serif' font-size="12.50" fill="#4c72b0">2</text>
<text transform="translate(837.32,92.30) scale(1.319,1)" font-family='"Liberation Sans", sans-serif' font-size="19.00" fill="#4c72b0">t</text>
<text transform="translate(845.29,95.10) scale(1.063,1)" font-family='"Liberation Sans", sans-serif' font-size="12.50" fill="#4c72b0">3</text>
<rect x="791.3" y="26.2" width="142.9" height="42.2" rx="3" fill="#ebebf3" fill-opacity="0.8" stroke="#d3d3db" stroke-width="1"/>
<g stroke="#55a868" stroke-width="1.2"><line x1="802.2" y1="36.0" x2="815.2" y2="36.0"/><line x1="808.7" y1="29.5" x2="808.7" y2="42.5"/><line x1="802.2" y1="33.5" x2="802.2" y2="38.5"/><line x1="815.2" y1="33.5" x2="815.2" y2="38.5"/><line x1="806.2" y1="29.5" x2="811.2" y2="29.5"/><line x1="806.2" y1="42.5" x2="811.2" y2="42.5"/></g>
<circle cx="808.7" cy="36.0" r="3.2" fill="#55a868"/>
<g stroke="#4c72b0" stroke-width="1.2"><line x1="802.2" y1="55.5" x2="815.2" y2="55.5"/><line x1="808.7" y1="49.0" x2="808.7" y2="62.0"/><line x1="802.2" y1="53.0" x2="802.2" y2="58.0"/><line x1="815.2" y1="53.0" x2="815.2" y2="58.0"/><line x1="806.2" y1="49.0" x2="811.2" y2="49.0"/><line x1="806.2" y1="62.0" x2="811.2" y2="62.0"/></g>
<circle cx="808.7" cy="55.5" r="3.2" fill="#4c72b0"/>
<text transform="translate(831.90,40.80) scale(0.986,1)" font-family='"Liberation Serif", serif' font-size="14.20" fill="#222">Estimated Phases</text>
<text transform="translate(831.90,60.20) scale(0.971,1)" font-family='"Liberation Serif", serif' font-size="14.20" fill="#222">Projected Phases</text>
<text transform="translate(760.00,38.20) scale(1.132,1)" font-family='"Liberation Serif", serif' font-size="12.10" fill="#333">1.0</text>
<text transform="translate(760.70,64.86) scale(1.084,1)" font-family='"Liberation Serif", serif' font-size="12.10" fill="#333">0.8</text>
<text transform="translate(760.70,91.52) scale(1.077,1)" font-family='"Liberation Serif", serif' font-size="12.10" fill="#333">0.6</text>
<text transform="translate(760.71,118.18) scale(1.064,1)" font-family='"Liberation Serif", serif' font-size="12.10" fill="#333">0.4</text>
<text transform="translate(760.69,144.84) scale(1.100,1)" font-family='"Liberation Serif", serif' font-size="12.10" fill="#333">0.2</text>
<text transform="translate(760.70,171.50) scale(1.084,1)" font-family='"Liberation Serif", serif' font-size="12.10" fill="#333">0.0</text>
<text transform="translate(785.57,191.00) scale(1.125,1)" font-family='"Liberation Serif", serif' font-size="12.10" fill="#333">−1.0</text>
<text transform="translate(852.07,191.00) scale(1.126,1)" font-family='"Liberation Serif", serif' font-size="12.10" fill="#333">−0.5</text>
<text transform="translate(923.78,191.00) scale(1.021,1)" font-family='"Liberation Serif", serif' font-size="12.10" fill="#333">0.0</text>
<text transform="translate(823.11,209.70) scale(1.108,1)" font-family='"Liberation Serif", serif' font-size="18.60" fill="#222">Real Part</text>
<text transform="translate(753.8,137.97) rotate(-90) scale(1.146,1)" font-family='"Liberation Serif", serif' font-size="18.6" fill="#222">Imag Part</text>
<rect x="783.1" y="232.1" width="154.2" height="143.3" fill="#eaeaf2"/>
<line x1="790.0" y1="232.1" x2="790.0" y2="375.4" stroke="#fff" stroke-width="1"/>
<line x1="855.5" y1="232.1" x2="855.5" y2="375.4" stroke="#fff" stroke-width="1"/>
<line x1="921.0" y1="232.1" x2="921.0" y2="375.4" stroke="#fff" stroke-width="1"/>
<line x1="783.1" y1="367.7" x2="937.3" y2="367.7" stroke="#fff" stroke-width="1"/>
<line x1="783.1" y1="336.9" x2="937.3" y2="336.9" stroke="#fff" stroke-width="1"/>
<line x1="783.1" y1="306.2" x2="937.3" y2="306.2" stroke="#fff" stroke-width="1"/>
<line x1="783.1" y1="275.4" x2="937.3" y2="275.4" stroke="#fff" stroke-width="1"/>
<line x1="783.1" y1="244.7" x2="937.3" y2="244.7" stroke="#fff" stroke-width="1"/>
<polyline points="788.4,348.2 790.8,347.1 793.1,345.9 795.5,344.6 797.9,343.2 800.3,341.8 802.7,340.2 805.1,338.5 807.5,336.8 809.9,335.0 812.3,333.1 814.7,331.2 817.1,329.1 819.4,327.1 821.8,324.9 824.2,322.7 826.6,320.5 829.0,318.2 831.4,315.9 833.8,313.5 836.2,311.1 838.6,308.7 841.0,306.3 843.3,303.9 845.7,301.4 848.1,298.9 850.5,296.5 852.9,294.0 855.3,291.6 857.7,289.2 860.1,286.8 862.5,284.4 864.9,282.0 867.3,279.7 869.6,277.4 872.0,275.2 874.4,273.0 876.8,270.9 879.2,268.8 881.6,266.8 884.0,264.9 886.4,263.0 888.8,261.2 891.2,259.5 893.6,257.9 895.9,256.3 898.3,254.9 900.7,253.5 903.1,252.2 905.5,251.0 907.9,250.0 910.3,249.0 912.7,248.1 915.1,247.3 917.5,246.7 919.9,246.1 922.2,245.7 924.6,245.3 927.0,245.1 929.4,245.0 931.8,245.0" fill="none" stroke="#dd8452" stroke-width="1.5"/>
<polyline points="788.4,349.2 790.8,350.8 793.1,352.4 795.5,353.9 797.9,355.4 800.3,356.8 802.7,358.1 805.1,359.4 807.5,360.6 809.9,361.7 812.3,362.7 814.7,363.6 817.1,364.5 819.4,365.3 821.8,366.0 824.2,366.6 826.6,367.1 829.0,367.5 831.4,367.8 833.8,368.0 836.2,368.2 838.6,368.2 841.0,368.2 843.3,368.1 845.7,367.8 848.1,367.5 850.5,367.1 852.9,366.6 855.3,366.0 857.7,365.3 860.1,364.5 862.5,363.7 864.9,362.7 867.3,361.7 869.6,360.6 872.0,359.4 874.4,358.2 876.8,356.8 879.2,355.4 881.6,354.0 884.0,352.5 886.4,350.9 888.8,349.2 891.2,347.5 893.6,345.8 895.9,344.0 898.3,342.1 900.7,340.3 903.1,338.4 905.5,336.4 907.9,334.4 910.3,332.5 912.7,330.4 915.1,328.4 917.5,326.4 919.9,324.3 922.2,322.3 924.6,320.2 927.0,318.2 929.4,316.2 931.8,314.2" fill="none" stroke="#4c72b0" stroke-width="1.5"/>
<rect x="788.4" y="281.5" width="100.8" height="44.2" rx="3" fill="#ebebf3" fill-opacity="0.8" stroke="#d3d3db" stroke-width="1"/>
<line x1="790.0" y1="340.2" x2="790.0" y2="352.2" stroke="#dd8452" stroke-width="1.5"/>
<circle cx="790.0" cy="346.2" r="3.6" fill="#dd8452"/>
<line x1="822.7" y1="326.6" x2="822.7" y2="338.6" stroke="#dd8452" stroke-width="1.5"/>
<circle cx="822.7" cy="332.6" r="3.6" fill="#dd8452"/>
<line x1="855.5" y1="272.2" x2="855.5" y2="284.2" stroke="#dd8452" stroke-width="1.5"/>
<circle cx="855.5" cy="278.2" r="3.6" fill="#dd8452"/>
<line x1="888.2" y1="246.4" x2="888.2" y2="258.4" stroke="#dd8452" stroke-width="1.5"/>
<circle cx="888.2" cy="252.4" r="3.6" fill="#dd8452"/>
<line x1="921.0" y1="239.3" x2="921.0" y2="251.3" stroke="#dd8452" stroke-width="1.5"/>
<circle cx="921.0" cy="245.3" r="3.6" fill="#dd8452"/>
<line x1="790.0" y1="346.9" x2="790.0" y2="358.9" stroke="#4c72b0" stroke-width="1.5"/>
<circle cx="790.0" cy="352.9" r="3.6" fill="#4c72b0"/>
<line x1="822.7" y1="356.2" x2="822.7" y2="368.2" stroke="#4c72b0" stroke-width="1.5"/>
<circle cx="822.7" cy="362.2" r="3.6" fill="#4c72b0"/>
<line x1="855.5" y1="355.6" x2="855.5" y2="367.6" stroke="#4c72b0" stroke-width="1.5"/>
<circle cx="855.5" cy="361.6" r="3.6" fill="#4c72b0"/>
<line x1="888.2" y1="332.2" x2="888.2" y2="344.2" stroke="#4c72b0" stroke-width="1.5"/>
<circle cx="888.2" cy="338.2" r="3.6" fill="#4c72b0"/>
<line x1="921.0" y1="312.2" x2="921.0" y2="324.2" stroke="#4c72b0" stroke-width="1.5"/>
<circle cx="921.0" cy="318.2" r="3.6" fill="#4c72b0"/>
<line x1="804.9" y1="287.6" x2="804.9" y2="299.6" stroke="#dd8452" stroke-width="1.5"/>
<circle cx="804.9" cy="293.6" r="3.6" fill="#dd8452"/>
<line x1="804.9" y1="308.0" x2="804.9" y2="320.0" stroke="#4c72b0" stroke-width="1.5"/>
<circle cx="804.9" cy="314.0" r="3.6" fill="#4c72b0"/>
<text transform="translate(826.00,296.90) scale(1.215,1)" font-family='"Liberation Sans", sans-serif' font-size="11.00" fill="#222">Re</text>
<text transform="translate(843.17,298.10) scale(1.243,1)" font-family='"Liberation Sans", sans-serif' font-size="11.00" fill="#222">{</text>
<text transform="translate(849.44,296.90) scale(1.236,1)" font-family='"Liberation Sans", sans-serif' font-size="11.00" font-style="italic" fill="#222">e</text>
<text transform="translate(856.16,291.40) scale(1.640,1)" font-family='"Liberation Sans", sans-serif' font-size="8.00" font-style="italic" fill="#222">−iλ</text>
<text transform="translate(872.69,288.90)" font-family='"Liberation Sans", sans-serif' font-size="7.00" fill="#222">*</text>
<text transform="translate(878.45,298.10) scale(1.367,1)" font-family='"Liberation Sans", sans-serif' font-size="11.00" fill="#222">}</text>
<text transform="translate(825.61,317.60) scale(1.470,1)" font-family='"Liberation Sans", sans-serif' font-size="11.00" fill="#222">Im</text>
<text transform="translate(843.17,318.80) scale(1.243,1)" font-family='"Liberation Sans", sans-serif' font-size="11.00" fill="#222">{</text>
<text transform="translate(849.44,317.60) scale(1.236,1)" font-family='"Liberation Sans", sans-serif' font-size="11.00" font-style="italic" fill="#222">e</text>
<text transform="translate(856.16,312.10) scale(1.640,1)" font-family='"Liberation Sans", sans-serif' font-size="8.00" font-style="italic" fill="#222">−iλ</text>
<text transform="translate(872.69,309.60)" font-family='"Liberation Sans", sans-serif' font-size="7.00" fill="#222">*</text>
<text transform="translate(878.45,318.80) scale(1.367,1)" font-family='"Liberation Sans", sans-serif' font-size="11.00" fill="#222">}</text>
<text transform="translate(759.12,249.90) scale(1.110,1)" font-family='"Liberation Serif", serif' font-size="12.10" fill="#333">1.0</text>
<text transform="translate(759.81,280.65) scale(1.064,1)" font-family='"Liberation Serif", serif' font-size="12.10" fill="#333">0.5</text>
<text transform="translate(759.81,311.40) scale(1.063,1)" font-family='"Liberation Serif", serif' font-size="12.10" fill="#333">0.0</text>
<text transform="translate(753.69,342.15) scale(1.020,1)" font-family='"Liberation Serif", serif' font-size="12.10" fill="#333">−0.5</text>
<text transform="translate(753.69,372.90) scale(1.020,1)" font-family='"Liberation Serif", serif' font-size="12.10" fill="#333">−1.0</text>
<text transform="translate(779.23,391.90) scale(1.070,1)" font-family='"Liberation Serif", serif' font-size="11.50" fill="#333">0.20</text>
<text transform="translate(844.73,391.90) scale(1.081,1)" font-family='"Liberation Serif", serif' font-size="11.50" fill="#333">0.22</text>
<text transform="translate(910.24,391.90) scale(1.056,1)" font-family='"Liberation Serif", serif' font-size="11.50" fill="#333">0.24</text>
<text transform="translate(858.21,411.00) scale(1.096,1)" font-family='"Liberation Sans", sans-serif' font-size="17.50" fill="#222">t</text>
</svg></body></html>
